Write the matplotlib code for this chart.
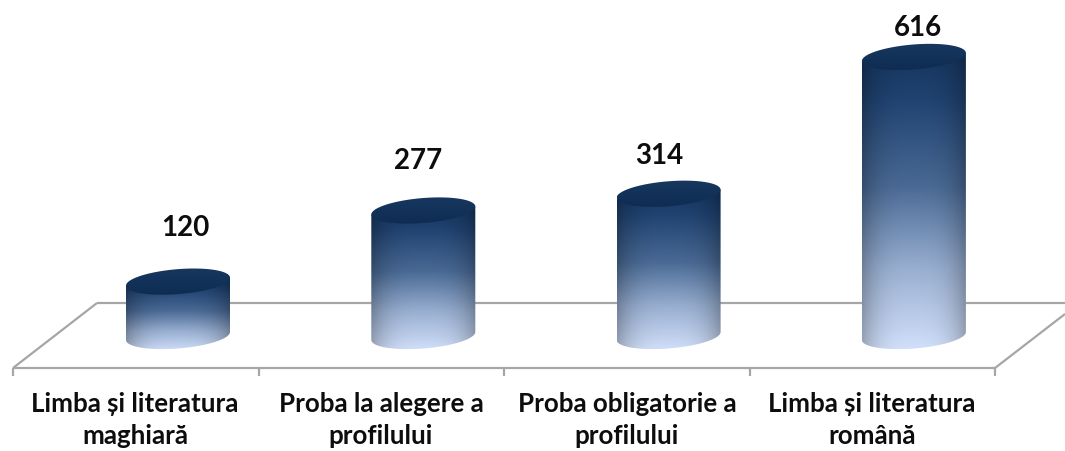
import numpy as np
import matplotlib
matplotlib.use("Agg")
import matplotlib.pyplot as plt
from matplotlib.path import Path
from matplotlib.patches import PathPatch
from matplotlib.colors import to_rgb

categories = ["Limba și literatura\nmaghiară", "Proba la alegere a\nprofilului",
              "Proba obligatorie a\nprofilului", "Limba și literatura\nromână"]
values = [120, 277, 314, 616]

W, H = 1065, 451
X0, DX = 178.0, 245.3      # pixel of first category, pixels per category
Y0, SY = 336.0, 0.453      # pixel of zero, pixels per unit

plt.rcParams['font.family'] = ['Lato', 'DejaVu Sans']
fig = plt.figure(figsize=(W / 100, H / 100), dpi=100)
ax = fig.add_axes([0, 0, 1, 1])
ax.axis('off')
xlim = (-X0 / DX, (W - X0) / DX)
ylim = ((Y0 - H) / SY, Y0 / SY)

# floor, in pixel-fraction axes coordinates
grey = '#a6a6a6'
def fl(xs, ys, **kw):
    ax.plot(np.array(xs) / W, 1 - np.array(ys) / H, transform=ax.transAxes,
            color=grey, lw=1.6, solid_capstyle='butt', clip_on=False, **kw)
fl([97, 1065], [303, 303], zorder=1)
fl([13, 97], [368, 303], zorder=1)
fl([13, 995], [368, 368], zorder=1)
fl([995, 1065], [368, 314], zorder=1)
for tx in [13, 258.5, 504, 749.5, 995]:
    fl([tx, tx], [368, 376], zorder=1)

# cylinder shape
A, B, SK = 52 / DX, 12.5 / SY, 4 / SY

stops_p = [0.0, 0.15, 0.45, 0.72, 1.0]
stops_c = [to_rgb(c) for c in ['#16355d', '#1f4270', '#4a6a95', '#98aed0', '#d3e1fb']]
ny, nx = 200, 80
v_pos = np.linspace(0, 1, ny)
grad = np.stack([np.interp(v_pos, stops_p, [c[i] for c in stops_c]) for i in range(3)], axis=-1)
u = np.linspace(-1, 1, nx)
shade = 1 - 0.26 * np.abs(u) ** 3
body_img = grad[:, None, :] * shade[None, :, None]

cap_g = np.linspace(0, 1, 40)
cap_rgb = np.stack([np.interp(cap_g, [0, 1], [a, b]) for a, b in zip(to_rgb('#17375f'), to_rgb('#0f2d53'))], axis=-1)
cap_img = cap_rgb[:, None, :]

t_low = np.linspace(np.pi, 2 * np.pi, 60)
t_all = np.linspace(0, 2 * np.pi, 120)

for i, v in enumerate(values):
    # body outline: down left side, along lower front arc, up right side
    bx = i + A * np.cos(t_low)
    by = SK * np.cos(t_low) + B * np.sin(t_low)
    px = np.r_[i - A, bx, i + A, i - A]
    py = np.r_[v - SK, by, v + SK, v - SK]
    im = ax.imshow(body_img, extent=(i - A, i + A, -(B + SK), v + SK), aspect='auto',
                   origin='upper', interpolation='bilinear', zorder=3)
    clip = PathPatch(Path(np.c_[px, py]), transform=ax.transData, fc='none', ec='none')
    ax.add_patch(clip)
    im.set_clip_path(clip)
    # top cap
    cx = i + A * np.cos(t_all)
    cy = v + SK * np.cos(t_all) + B * np.sin(t_all)
    top = np.hypot(SK, B)
    im2 = ax.imshow(cap_img, extent=(i - A, i + A, v - top, v + top), aspect='auto',
                    origin='upper', interpolation='bilinear', zorder=4)
    clip2 = PathPatch(Path(np.c_[cx, cy]), transform=ax.transData, fc='none', ec='none')
    ax.add_patch(clip2)
    im2.set_clip_path(clip2)

# value labels
label_dx = [7, -5, -9, 4]
label_dy = [54, 50, 38, 29]
for i, v in enumerate(values):
    ax.annotate(str(v), xy=(i, v), xytext=(label_dx[i] * 0.72, label_dy[i] * 0.72),
                textcoords='offset points', ha='center', va='center',
                fontsize=20, fontweight='bold', color='#0d0d0d', zorder=5)

# category labels
label_px = [135, 381, 627, 872]
for lx, c in zip(label_px, categories):
    ax.text(lx / W, 1 - 420 / H, c, transform=ax.transAxes, ha='center', va='center',
            fontsize=18.6, fontweight='bold', color='#0d0d0d', linespacing=1.43)

ax.set_xlim(*xlim)
ax.set_ylim(*ylim)
fig.savefig('out.png', dpi=100, facecolor='white')
